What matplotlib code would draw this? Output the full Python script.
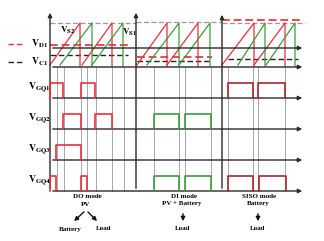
import matplotlib.pyplot as plt

plt.rcParams['mathtext.fontset'] = 'stix'

# sections (pixel-time units): start of each vertical axis
axis_x = [50, 136, 222]
x_end = 305

# levels of the top waveform panel
y_top = 23          # peak of carriers (V_S1 / V_S2)
y_mid = 48          # upper solid axis
y_base = 67         # carrier base axis
# reference lines per section: (x0, x1, y)
vd1_lines = [(50, 128, 44.5), (137, 212, 57), (222, 302, 20)]
vc1_lines = [(50, 128, 55), (137, 212, 61), (228, 298, 59)]
top_dash = [(50, 136, 23), (136, 222, 22), (222, 305, 23)]

# carrier ramps (start, end)
red_ramps = [(50, 80), (82, 112), (137, 167), (167, 198), (222, 254), (254, 285)]
green_ramps = [(60, 92), (92, 123), (147, 179), (179, 210), (238, 265), (266, 295)]

# gate signal axes and pulse tops
gate_names = ['GQ1', 'GQ2', 'GQ3', 'GQ4']
gate_base = [98, 129, 160, 191]
pulse_h = 15
# pulses: (gate index, start, end, colour key)
pulses = [
    (0, 50, 63, 'r'), (0, 81, 95, 'r'),
    (1, 63, 81, 'r'), (1, 95, 112, 'r'),
    (2, 56, 81, 'r'),
    (3, 50, 56, 'r'), (3, 81, 87, 'r'),
    (1, 154, 179, 'g'), (1, 185, 211, 'g'),
    (3, 154, 179, 'g'), (3, 185, 211, 'g'),
    (0, 228, 253, 'd'), (0, 258, 285, 'd'),
    (3, 228, 253, 'd'), (3, 259, 286, 'd'),
]
switch_x = [57, 64, 81, 87, 96, 112, 124, 154, 179, 185, 211, 228, 253, 258, 285]

colors = {'r': '#e8303a', 'g': '#3c9c3c', 'd': '#a8282c'}
axc = '#2a2a2a'

fig = plt.figure(figsize=(3.24, 2.41), dpi=100)
ax = fig.add_axes([0, 0, 1, 1])
ax.set_xlim(0, 324)
ax.set_ylim(241, 0)
ax.axis('off')

# switching instants
for x in switch_x:
    ax.plot([x, x], [y_base, gate_base[-1]], color='#a8a8a8', lw=0.7, zorder=1)

# vertical axes
for i, x in enumerate(axis_x):
    top = 10 if i < 2 else 12
    ax.annotate('', xy=(x, top), xytext=(x, gate_base[-1]),
                arrowprops=dict(arrowstyle='-|>', lw=1, color=axc, mutation_scale=6))

# horizontal axes
for y in [y_mid, y_base] + gate_base:
    ax.annotate('', xy=(x_end, y), xytext=(axis_x[0], y),
                arrowprops=dict(arrowstyle='-|>', lw=1, color=axc, mutation_scale=6))

# dashed reference lines
for x0, x1, y in top_dash:
    ax.plot([x0, x1], [y, y], color='#999999', lw=0.9, ls=(0, (4, 2)))
for x0, x1, y in vd1_lines:
    ax.plot([x0, x1], [y, y], color='#f04850', lw=1.4, ls=(0, (4, 2)))
for x0, x1, y in vc1_lines:
    ax.plot([x0, x1], [y, y], color='#222222', lw=1.0, ls=(0, (4, 2)))

# carriers
for ramps, key in [(red_ramps, 'r'), (green_ramps, 'g')]:
    for x0, x1 in ramps:
        ax.plot([x0, x1, x1], [65, y_top, 66], color=colors[key], lw=0.9)

# gate pulses
for g, x0, x1, key in pulses:
    b = gate_base[g]
    ax.plot([x0, x0, x1, x1], [b, b - pulse_h, b - pulse_h, b],
            color=colors[key], lw=1.2, zorder=3)

# legend at the left
ax.plot([8, 23], [44, 44], color='#e8303a', lw=1, ls=(0, (4, 2)))
ax.plot([8, 23], [62, 62], color='#222222', lw=1, ls=(0, (4, 2)))
ax.text(31, 44, r'$\mathbf{V}_{\mathbf{D1}}$', fontsize=7, va='center')
ax.text(31, 62, r'$\mathbf{V}_{\mathbf{C1}}$', fontsize=7, va='center')
ax.text(60, 30, r'$\mathbf{V}_{\mathbf{S2}}$', fontsize=6.5, va='center')
ax.text(122, 32, r'$\mathbf{V}_{\mathbf{S1}}$', fontsize=6.5, va='center', zorder=4)

for name, b in zip(gate_names, gate_base):
    ax.text(28, b - 10, r'$\mathbf{V}_{\mathbf{%s}}$' % name, fontsize=7, va='center')

# mode captions
tk = dict(fontsize=5, fontweight='bold', family='Liberation Serif', ha='center', va='center')
ax.text(87, 197, 'DO mode', **tk)
ax.text(86, 205, 'PV', **tk)
ax.text(70, 229, 'Battery', **tk)
ax.text(104, 229, 'Load', **tk)
ax.text(184, 197, 'DI mode', **tk)
ax.text(182, 204, 'PV + Battery', **tk)
ax.text(183, 229, 'Load', **tk)
ax.text(259, 197, 'SISO mode', **tk)
ax.text(258, 204, 'Battery', **tk)
ax.text(258, 229, 'Load', **tk)

ak = dict(arrowstyle='-|>', lw=1.0, color='#111111', mutation_scale=6)
ax.annotate('', xy=(72, 223), xytext=(86, 210), arrowprops=ak)
ax.annotate('', xy=(99, 223), xytext=(86, 210), arrowprops=ak)
ax.annotate('', xy=(183, 224), xytext=(183, 211), arrowprops=ak)
ax.annotate('', xy=(258, 224), xytext=(258, 211), arrowprops=ak)

fig.savefig('out.png', dpi=100)
